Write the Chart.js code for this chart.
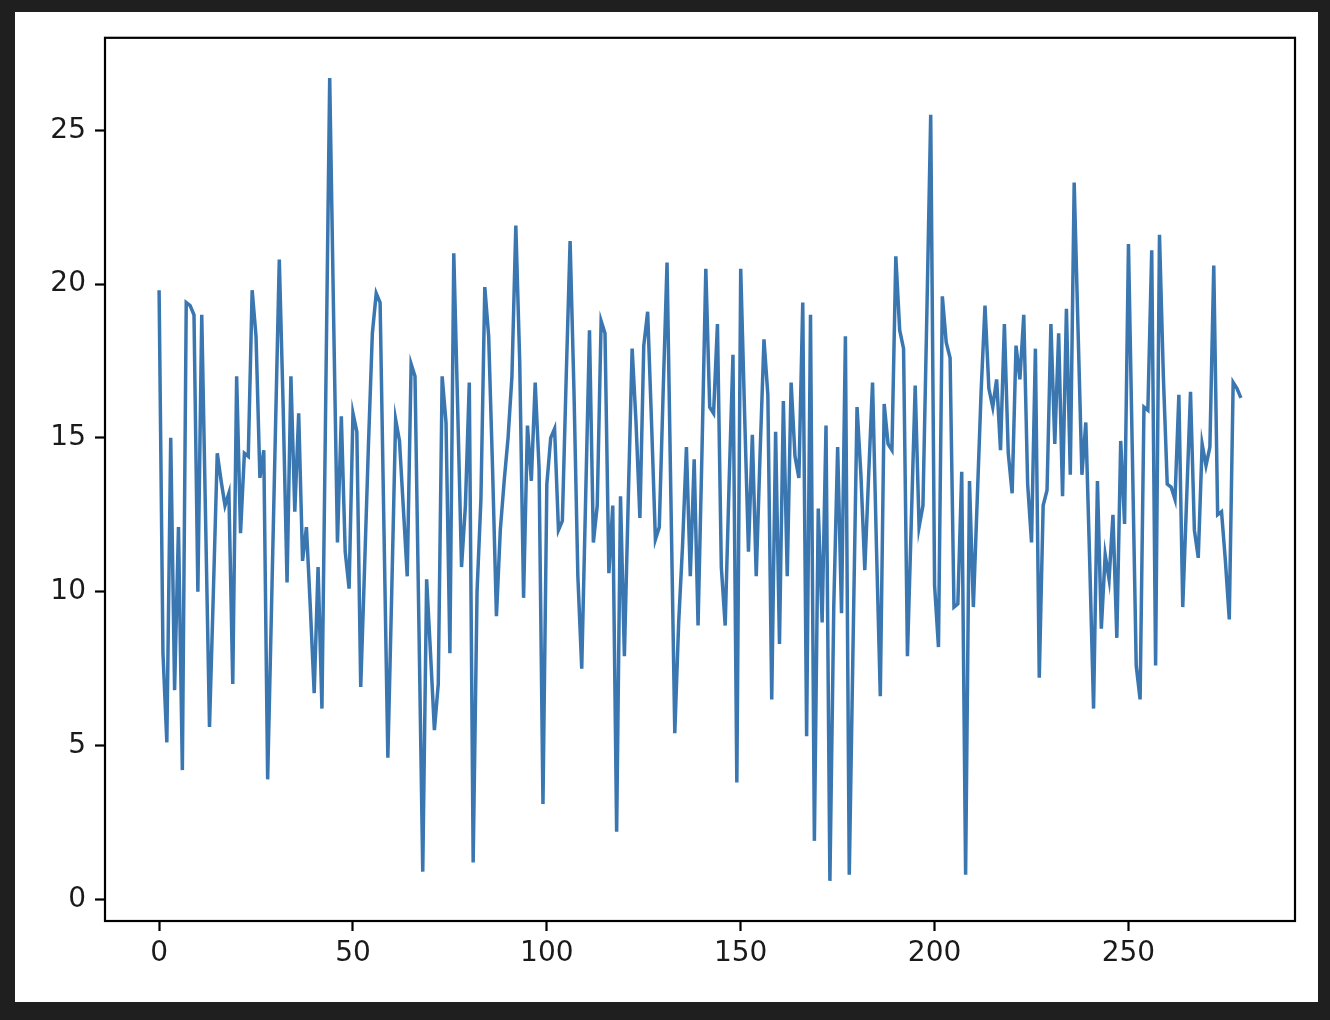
<!DOCTYPE html>
<html>
<head>
<meta charset="utf-8">
<script src="https://cdn.jsdelivr.net/npm/chart.js@4.4.1/dist/chart.umd.min.js"></script>
<style>
  html, body { margin: 0; padding: 0; background: #1f1f1f; width: 1330px; height: 1020px; overflow: hidden; }
  #fig { position: absolute; left: 15px; top: 12px; width: 1303px; height: 990px; background: #ffffff; }
  #c { display: block; }
</style>
</head>
<body>
<div id="fig"><canvas id="c" width="1303" height="990"></canvas></div>
<script>
// ---- data ----
const seriesValues = [
  19.8, 8.0, 5.1, 15.0, 6.8, 12.1, 4.2, 19.4, 19.3, 19.0,
  10.0, 19.0, 12.3, 5.6, 10.0, 14.5, 13.6, 12.8, 13.2, 7.0,
  17.0, 11.9, 14.5, 14.4, 19.8, 18.3, 13.7, 14.6, 3.9, 9.5,
  15.2, 20.8, 16.0, 10.3, 17.0, 12.6, 15.8, 11.0, 12.1, 9.5,
  6.7, 10.8, 6.2, 16.5, 26.7, 19.0, 11.6, 15.7, 11.3, 10.1,
  15.8, 15.2, 6.9, 10.8, 14.8, 18.4, 19.7, 19.4, 12.0, 4.6,
  10.0, 15.6, 14.9, 12.7, 10.5, 17.4, 17.0, 9.0, 0.9, 10.4,
  8.0, 5.5, 7.0, 17.0, 15.5, 8.0, 21.0, 16.0, 10.8, 12.8,
  16.8, 1.2, 10.0, 13.0, 19.9, 18.3, 14.0, 9.2, 12.0, 13.6,
  15.0, 17.0, 21.9, 17.5, 9.8, 15.4, 13.6, 16.8, 14.0, 3.1,
  13.5, 15.0, 15.3, 12.0, 12.3, 17.0, 21.4, 16.5, 10.5, 7.5,
  13.0, 18.5, 11.6, 12.8, 18.8, 18.4, 10.6, 12.8, 2.2, 13.1,
  7.9, 13.0, 17.9, 15.5, 12.4, 18.0, 19.1, 15.5, 11.7, 12.1,
  16.5, 20.7, 13.0, 5.4, 9.0, 11.5, 14.7, 10.5, 14.3, 8.9,
  14.5, 20.5, 16.0, 15.8, 18.7, 10.8, 8.9, 13.5, 17.7, 3.8,
  20.5, 15.8, 11.3, 15.1, 10.5, 14.5, 18.2, 16.4, 6.5, 15.2,
  8.3, 16.2, 10.5, 16.8, 14.4, 13.7, 19.4, 5.3, 19.0, 1.9,
  12.7, 9.0, 15.4, 0.6, 9.5, 14.7, 9.3, 18.3, 0.8, 8.5,
  16.0, 13.8, 10.7, 13.8, 16.8, 11.5, 6.6, 16.1, 14.8, 14.6,
  20.9, 18.5, 17.9, 7.9, 12.3, 16.7, 12.1, 12.8, 19.0, 25.5,
  10.2, 8.2, 19.6, 18.1, 17.6, 9.5, 9.6, 13.9, 0.8, 13.6,
  9.5, 13.0, 16.5, 19.3, 16.6, 16.0, 16.9, 14.6, 18.7, 14.5,
  13.2, 18.0, 16.9, 19.0, 13.5, 11.6, 17.9, 7.2, 12.8, 13.3,
  18.7, 14.8, 18.4, 13.1, 19.2, 13.8, 23.3, 18.5, 13.8, 15.5,
  11.0, 6.2, 13.6, 8.8, 11.2, 10.4, 12.5, 8.5, 14.9, 12.2,
  21.3, 14.5, 7.6, 6.5, 16.0, 15.9, 21.1, 7.6, 21.6, 17.0,
  13.5, 13.4, 13.0, 16.4, 9.5, 13.0, 16.5, 12.0, 11.1, 14.8,
  14.1, 14.7, 20.6, 12.5, 12.6, 11.0, 9.1, 16.8, 16.6, 16.3
];
const xTickValues = [0, 50, 100, 150, 200, 250];
const yTickValues = [0, 5, 10, 15, 20, 25];

// ---- build points (x = sample index) ----
const points = seriesValues.map((v, i) => ({ x: i, y: v }));

// matplotlib-like 5% data margins
const xMinD = 0, xMaxD = seriesValues.length - 1;
const yMinD = Math.min(...seriesValues), yMaxD = Math.max(...seriesValues);
const xPad = (xMaxD - xMinD) * 0.05, yPad = (yMaxD - yMinD) * 0.05;

const FONT = "'DejaVu Sans', 'Liberation Sans', sans-serif";
const TEXT = '#1a1a1a';

const framePlugin = {
  id: 'frame',
  afterDraw(chart) {
    const { ctx, chartArea: a } = chart;
    ctx.save();
    ctx.strokeStyle = '#000';
    ctx.lineWidth = 2.2;
    ctx.strokeRect(a.left, a.top, a.right - a.left, a.bottom - a.top);
    ctx.restore();
  }
};

new Chart(document.getElementById('c'), {
  type: 'line',
  data: {
    datasets: [{
      data: points,
      borderColor: '#3a76b0',
      borderWidth: 3.5,
      pointRadius: 0,
      tension: 0,
      fill: false
    }]
  },
  options: {
    responsive: false,
    animation: false,
    layout: { padding: { left: 0, top: 23, right: 23, bottom: 0 } },
    plugins: { legend: { display: false }, tooltip: { enabled: false } },
    scales: {
      x: {
        type: 'linear',
        min: xMinD - xPad,
        max: xMaxD + xPad,
        afterBuildTicks(s) { s.ticks = xTickValues.map(v => ({ value: v })); },
        afterFit(s) { s.height = 81; },
        border: { display: false },
        grid: { drawOnChartArea: false, drawTicks: true, tickLength: 10, tickColor: '#000', tickWidth: 2.2 },
        ticks: { color: TEXT, font: { family: FONT, size: 28 }, padding: 6, maxRotation: 0, autoSkip: false }
      },
      y: {
        type: 'linear',
        min: yMinD - yPad,
        max: yMaxD + yPad,
        afterBuildTicks(s) { s.ticks = yTickValues.map(v => ({ value: v })); },
        afterFit(s) { s.width = 90; },
        border: { display: false },
        grid: { drawOnChartArea: false, drawTicks: true, tickLength: 10, tickColor: '#000', tickWidth: 2.2 },
        ticks: { color: TEXT, font: { family: FONT, size: 28 }, padding: 9, autoSkip: false }
      }
    }
  },
  plugins: [framePlugin]
});
</script>
</body>
</html>
